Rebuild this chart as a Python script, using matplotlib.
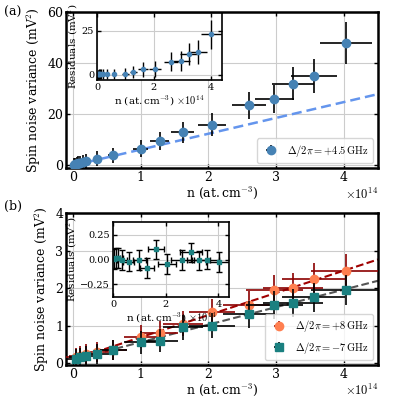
import numpy as np
import matplotlib
matplotlib.use("Agg")
import matplotlib.pyplot as plt

plt.rcParams['font.family'] = ['DejaVu Serif']
plt.rcParams['mathtext.fontset'] = 'cm'
plt.rcParams['font.size'] = 9

xa = [0.02,0.04,0.06,0.08,0.1,0.15,0.2,0.35,0.6,1.0,1.28,1.62,2.05,2.6,2.97,3.25,3.55,4.03]
ya = [0.3,0.5,0.7,0.9,1.0,1.3,1.7,2.7,4.0,6.5,9.5,13,16,23.5,26,32,35,48]
xb = [0.05,0.1,0.2,0.35,0.6,1.0,1.28,1.62,2.05,2.6,2.97,3.25,3.55,4.03]
yb_pos = [0.15,0.2,0.25,0.3,0.35,0.7,0.8,1.05,1.35,1.55,1.95,2.0,2.25,2.45]
yb_neg = [0.12,0.15,0.2,0.25,0.35,0.55,0.6,0.95,1.0,1.3,1.55,1.6,1.75,1.95]
slope_a = 6.2

def style(ax, lw=1.8, fs=9):
    for s in ax.spines.values():
        s.set_linewidth(lw)
    ax.tick_params(direction='in', top=True, right=True, width=1, length=3, labelsize=fs, pad=2)
    ax.grid(True, color='#cccccc', lw=0.8)
    ax.set_axisbelow(True)

fig = plt.figure(figsize=(4, 4), dpi=100)
ax1 = fig.add_axes([0.165, 0.58, 0.78, 0.39])
ax2 = fig.add_axes([0.165, 0.0875, 0.78, 0.38])

xa_ = np.array(xa); ya_ = np.array(ya)
ax1.errorbar(xa_, ya_, xerr=0.09*xa_+0.02, yerr=0.12*ya_+2.5, fmt='o', color='#4682b4',
             ms=6, ecolor='black', elinewidth=1.2, capsize=0, label=r'$\Delta/2\pi = +4.5\,\mathrm{GHz}$', zorder=3)
xf = np.linspace(0, 4.5, 50)
ax1.plot(xf, slope_a*xf, '--', color='#6495ed', lw=1.8, dashes=(4, 2))
ax1.set_xlim(-0.1, 4.5); ax1.set_ylim(-1, 60)
ax1.set_yticks([0, 20, 40, 60]); ax1.set_xticks([0, 1, 2, 3, 4])
ax1.set_ylabel(r'Spin noise variance (mV$^2$)', labelpad=3)
ax1.set_xlabel(r'n (at.$\,$cm$^{-3}$)', labelpad=1)
ax1.text(1.0, -0.12, r'$\times10^{14}$', transform=ax1.transAxes, ha='right', va='top')
ax1.legend(loc='lower right', fontsize=7.5, handletextpad=0.5)
style(ax1)
fig.text(0.01, 0.985, '(a)', va='top')

ins1 = fig.add_axes([0.2425, 0.8, 0.3125, 0.1675])
res = ya_ - slope_a*xa_
ins1.errorbar(xa_, res, xerr=0.09*xa_+0.02, yerr=0.12*ya_+2.5, fmt='o', color='#4682b4', ms=3,
              ecolor='black', elinewidth=1, capsize=0)
ins1.set_xlim(0, 4.4); ins1.set_ylim(-3, 35)
ins1.set_yticks([0, 25]); ins1.set_xticks([0, 2, 4])
ins1.set_ylabel(r'Residuals (mV$^2$)', labelpad=1, fontsize=7.5)
ins1.set_xlabel(r'n (at.$\,$cm$^{-3}$) $\times10^{14}$', labelpad=1, fontsize=7.5)
style(ins1, 1.2, 7)

xb_ = np.array(xb); yp = np.array(yb_pos); yn = np.array(yb_neg)
ax2.errorbar(xb_, yp, xerr=0.09*xb_+0.15, yerr=0.08*yp+0.25, fmt='o', color='#ff7f50', ms=6,
             ecolor='#8b0000', elinewidth=1.2, capsize=0, label=r'$\Delta/2\pi = +8\,\mathrm{GHz}$', zorder=3)
ax2.errorbar(xb_, yn, xerr=0.09*xb_+0.15, yerr=0.08*yn+0.25, fmt='s', color='#1a8080', ms=6,
             ecolor='black', elinewidth=1.2, capsize=0, label=r'$\Delta/2\pi = -7\,\mathrm{GHz}$', zorder=4)
pp = np.polyfit(xb_, yp, 1); pn = np.polyfit(xb_, yn, 1)
ax2.plot(xf, np.polyval(pp, xf), '--', color='#a00000', lw=1.5)
ax2.plot(xf, np.polyval(pn, xf), '--', color='#555555', lw=1.5)
ax2.set_xlim(-0.1, 4.5); ax2.set_ylim(-0.05, 4)
ax2.set_yticks([0, 1, 2, 3, 4]); ax2.set_xticks([0, 1, 2, 3, 4])
ax2.set_ylabel(r'Spin noise variance (mV$^2$)', labelpad=3)
ax2.set_xlabel(r'n (at.$\,$cm$^{-3}$)', labelpad=1)
ax2.text(1.0, -0.12, r'$\times10^{14}$', transform=ax2.transAxes, ha='right', va='top')
ax2.legend(loc='lower right', fontsize=7.5, handletextpad=0.5)
style(ax2)
fig.text(0.01, 0.5, '(b)', va='top')

ins2 = fig.add_axes([0.2825, 0.2575, 0.29, 0.1875])
resn = yn - np.polyval(pn, xb_)
ins2.errorbar(xb_, resn, xerr=0.09*xb_+0.15, yerr=0.1, fmt='s', color='#1a8080', ms=3,
              ecolor='black', elinewidth=1, capsize=2)
ins2.set_xlim(0, 4.4); ins2.set_ylim(-0.38, 0.38)
ins2.set_yticks([-0.25, 0, 0.25]); ins2.set_xticks([0, 2, 4])
ins2.set_ylabel(r'Residuals (mV$^2$)', labelpad=1, fontsize=7.5)
ins2.set_xlabel(r'n (at.$\,$cm$^{-3}$) $\times10^{14}$', labelpad=1, fontsize=7.5)
style(ins2, 1.2, 7)

fig.savefig('out.png', dpi=100)
